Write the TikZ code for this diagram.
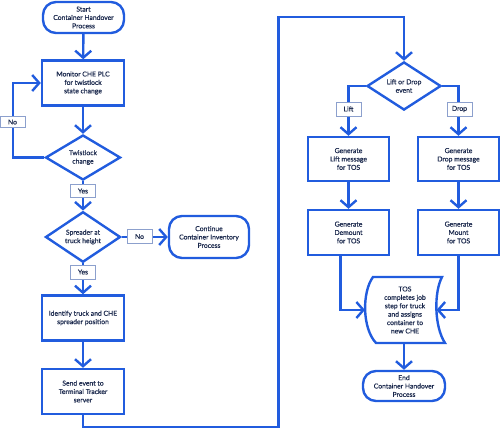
\documentclass[tikz,border=0pt]{standalone}
\usepackage{fontspec}
\setmainfont{Lato}[FakeBold=0.4]
\usetikzlibrary{arrows.meta,shapes.geometric}
\definecolor{fblue}{RGB}{33,92,222}
\definecolor{ftext}{RGB}{26,40,76}
\definecolor{lblbox}{RGB}{140,160,205}
\tikzset{
  ln/.style={draw=fblue,line width=2.4pt},
  arr/.style={ln,-{Straight Barb[length=7pt,width=16pt]}},
  txt/.style={text=ftext,font=\fontsize{6.8}{8.4}\selectfont,align=center},
  termbox/.style={ln,txt,rectangle,rounded corners=13pt,inner sep=0pt},
  procbox/.style={ln,txt,rectangle,minimum width=82pt,minimum height=45pt,inner sep=0pt},
  decbox/.style={ln,txt,diamond,inner sep=0pt,minimum width=75pt,minimum height=45pt},
  lbl/.style={txt,draw=lblbox,line width=0.6pt,fill=white,minimum width=25pt,minimum height=13pt,inner sep=0pt},
}
\begin{document}
\begin{tikzpicture}[x=1pt,y=-1pt]
\useasboundingbox (0,0) rectangle (501,429);
% left column
\node[termbox,minimum width=81pt,minimum height=31pt] (start) at (83.5,17.5) {Start\\Container Handover\\Process};
\node[procbox] (monitor) at (83,83) {Monitor CHE PLC\\for twistlock\\state change};
\node[decbox] (twist) at (83,157.5) {Twistlock\\change};
\node[decbox,minimum height=43pt] (spread) at (83,237) {Spreader at\\truck height};
\node[termbox,minimum width=80pt,minimum height=42pt] (cont) at (209,237) {Continue\\Container Inventory\\Process};
\node[procbox] (ident) at (83,318) {Identify truck and CHE\\spreader position};
\node[procbox] (send) at (83,391.5) {Send event to\\Terminal Tracker\\server};
% right column
\node[decbox,minimum width=74pt] (lod) at (404,86) {Lift or Drop\\event};
\node[procbox,minimum width=81pt,minimum height=44pt] (liftm) at (348.5,159) {Generate\\Lift message\\for TOS};
\node[procbox,minimum width=81pt,minimum height=44pt] (dropm) at (458.5,159) {Generate\\Drop message\\for TOS};
\node[procbox,minimum width=81pt] (dem) at (348.5,232.5) {Generate\\Demount\\for TOS};
\node[procbox,minimum width=81pt] (mnt) at (458.5,232.5) {Generate\\Mount\\for TOS};
\draw[ln,line join=miter] (373,277) -- (442,277) .. controls (434,292) and (434,326) .. (445,343) -- (376,343) .. controls (362,328) and (362,292) .. cycle;
\coordinate (tosL) at (365,310);
\coordinate (tosR) at (436.5,310);
\coordinate (tosS) at (404,343);
\node[txt] (tos) at (405,310) {TOS\\completes job\\step for truck\\and assigns\\container to\\new CHE};
\node[termbox,minimum width=82pt,minimum height=30pt] (endn) at (404,386) {End\\Container Handover\\Process};
% connectors
\draw[arr] (start) -- (monitor);
\draw[arr] (monitor) -- (twist);
\coordinate (noL) at (13,157.5);
\draw[arr] (twist.west) -- (noL) |- (monitor.west);
\node[lbl,minimum height=11pt] (lno1) at (12.5,122) {No};
\draw[arr] (twist) -- (spread);
\node[lbl] (lyes1) at (83,191) {Yes};
\draw[arr] (spread) -- (cont);
\node[lbl,minimum height=14pt] (lno2) at (139.5,236.5) {No};
\draw[arr] (spread) -- (ident);
\node[lbl,minimum height=14pt] (lyes2) at (83,272) {Yes};
\draw[arr] (ident) -- (send);
\coordinate (b1) at (83,427);
\coordinate (b2) at (278.5,427);
\coordinate (b3) at (278.5,17);
\draw[arr,line join=miter] (send.south) -- (b1) -- (b2) -- (b3) -| (lod.north);
\draw[arr] (lod.west) -| (liftm.north);
\draw[arr] (lod.east) -| (dropm.north);
\node[lbl,minimum height=14pt] (llift) at (348.5,109) {Lift};
\node[lbl,minimum height=14pt] (ldrop) at (459.5,109) {Drop};
\draw[arr] (liftm) -- (dem);
\draw[arr] (dropm) -- (mnt);
\draw[arr] ([xshift=-8pt]dem.south) |- (tosL);
\draw[arr] (mnt.south) |- (tosR);
\draw[arr] (tosS) -- (endn.north);
\end{tikzpicture}
\end{document}
